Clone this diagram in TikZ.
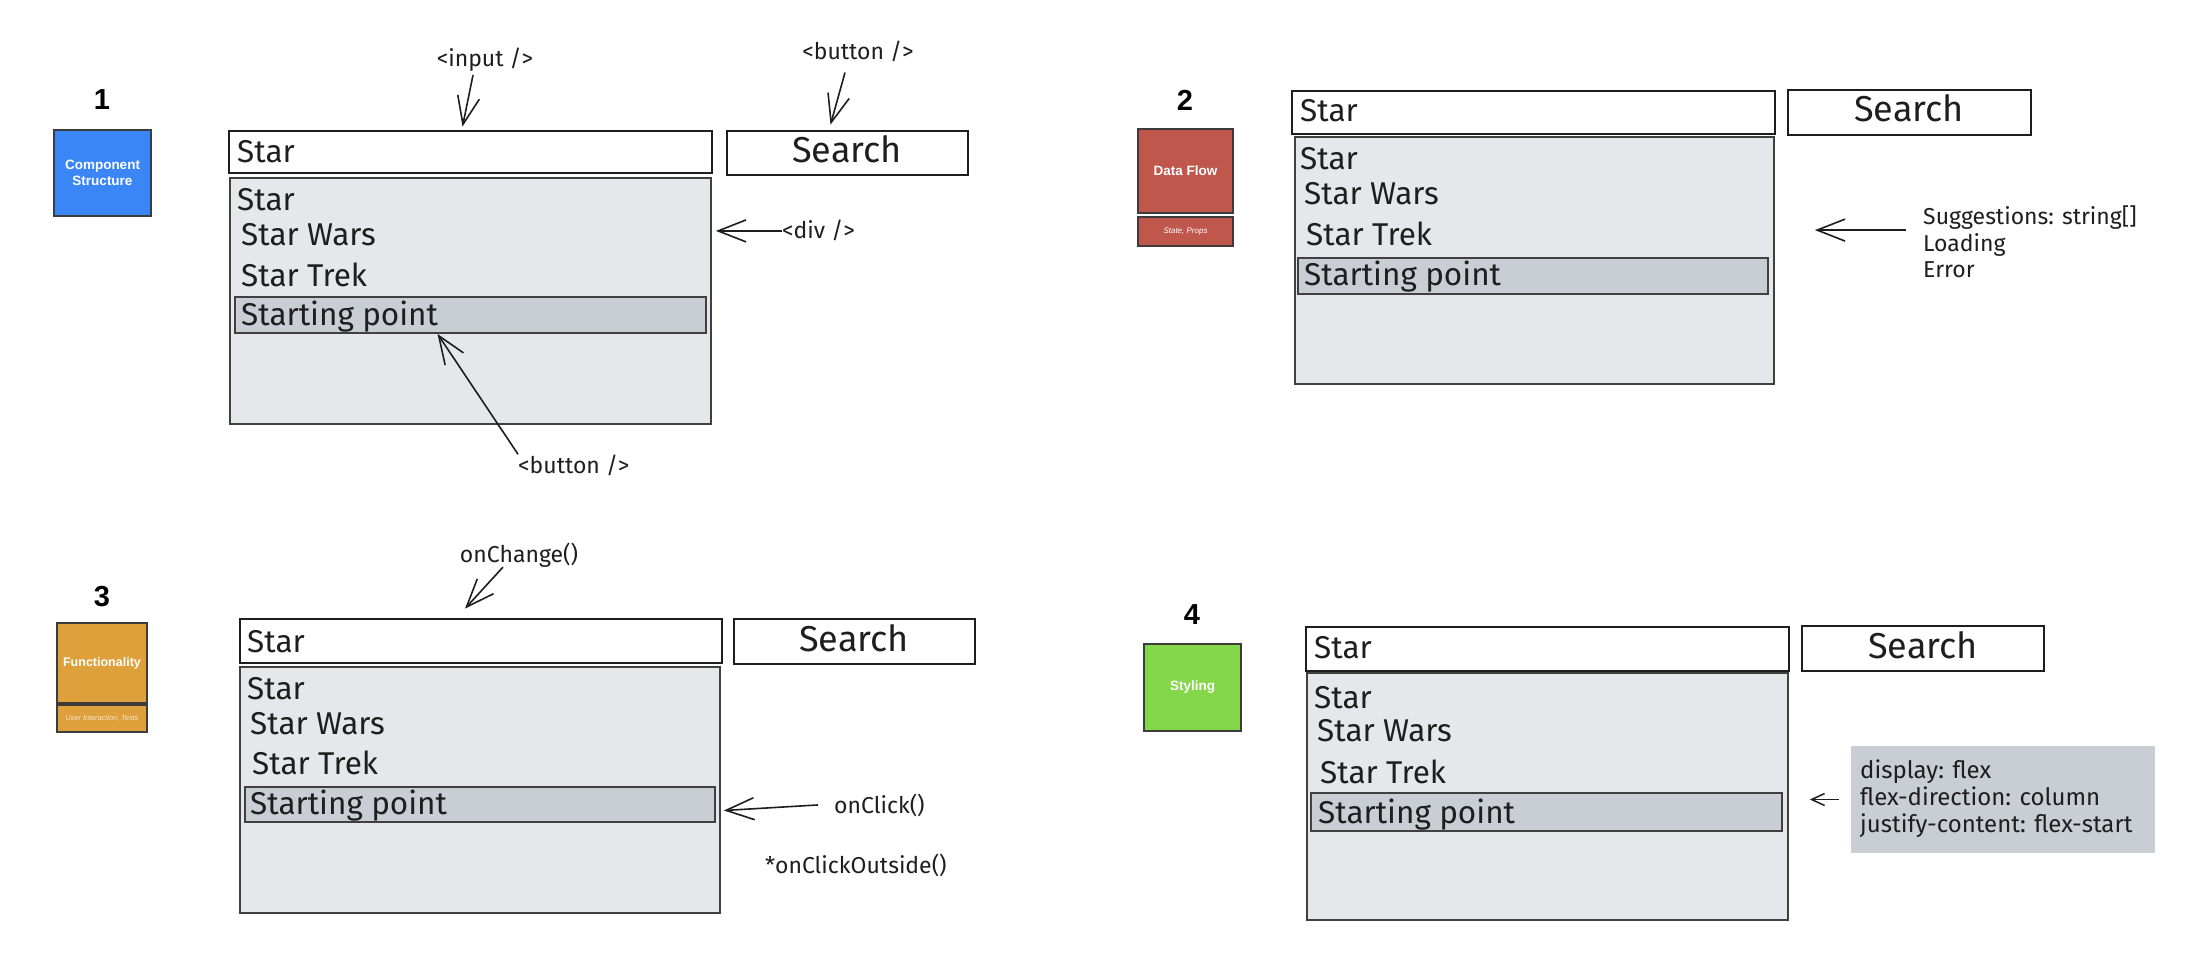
\documentclass[tikz,border=0pt]{standalone}
\usepackage{fontspec}
\setmainfont{Fira Sans}
\newfontfamily\headfont{Liberation Sans}
\usetikzlibrary{arrows.meta,fit}
\definecolor{ink}{RGB}{30,30,30}
\definecolor{ddgray}{RGB}{229,231,235}
\definecolor{hlgray}{RGB}{201,205,212}
\definecolor{cblue}{RGB}{59,134,246}
\definecolor{cred}{RGB}{192,87,77}
\definecolor{corange}{RGB}{221,160,58}
\definecolor{cgreen}{RGB}{132,214,74}
\definecolor{cborder}{RGB}{60,60,60}
\begin{document}
\begin{tikzpicture}[x=1pt,y=-1pt,
  inputbox/.style={draw=ink, line width=2.8pt, fill=white, inner sep=0pt},
  ddbox/.style={draw=ink!85, line width=1.8pt, fill=ddgray, inner sep=0pt},
  hlbox/.style={draw=ink!85, line width=1.8pt, fill=hlgray, inner sep=0pt},
  catbox/.style={draw=cborder, line width=1.2pt, inner sep=0pt},
  cattext/.style={text=white, font=\headfont\bfseries\fontsize{13.5}{16}\selectfont, align=center, inner sep=0pt},
  subtext/.style={text=white, font=\headfont\itshape\fontsize{8}{10}\selectfont, inner sep=0pt},
  numlbl/.style={font=\headfont\bfseries\fontsize{29}{32}\selectfont, inner sep=0pt},
  item/.style={font=\fontsize{31.5}{36}\selectfont, text=ink, inner sep=0pt, anchor=base west},
  srchtext/.style={font=\fontsize{36}{40}\selectfont, text=ink, inner sep=0pt, anchor=base},
  note/.style={font=\fontsize{23}{27}\selectfont, text=ink, inner sep=0pt},
  cssnote/.style={font=\fontsize{24}{27}\selectfont, text=ink, inner sep=0pt, anchor=base west},
  arr/.style={draw=ink, line width=1.6pt, -{Straight Barb[length=28pt,width=22pt,line width=1.6pt]}},
  arrsmall/.style={draw=ink, line width=1.5pt, -{Straight Barb[length=13pt,width=12pt,line width=1.5pt]}}
]
\useasboundingbox[fill=white] (0,0) rectangle (2189,957);

% ---------------- Panel 1 ----------------
\node[numlbl] (n1) at (102,100) {1};
\node[catbox, fill=cblue, fit={(54,130) (151,216)}] (cat1) {};
\node[cattext] (cat1t) at (cat1.center) {Component\\Structure};
\node[inputbox, fit={(229,131) (712,173)}] (in1) {};
\node[item] (in1t) at (237,163) {Star};
\node[inputbox, fit={(727,131) (968,175)}] (srch1) {};
\node[srchtext] (srch1t) at (847,163) {Search};
\node[ddbox, fit={(230,178) (711,424)}] (dd1) {};
\node[hlbox, fit={(235,297) (706,333)}] (hl1) {};
\node[item] (i1a) at (237,211) {Star};
\node[item] (i1b) at (241,246) {Star Wars};
\node[item] (i1c) at (241,287) {Star Trek};
\node[item] (i1d) at (241,326) {Starting point};
\node[note, anchor=base] (lblin) at (485,67) {<input />};
\node[note, anchor=base] (lblbtn) at (858,60) {<button />};
\node[note, anchor=base west] (lbldiv) at (782,239) {<div />};
\node[note, anchor=base west] (lblbtn2) at (518,473) {<button />};
\draw[arr] ([xshift=-12pt,yshift=-3pt]lblin.south) -- ([xshift=-8pt,yshift=3pt]in1.north);
\draw[arr] ([xshift=-13pt,yshift=-10pt]lblbtn.south) -- ([xshift=-17pt,yshift=5pt]srch1.north);
\draw[arr] (lbldiv.west) -- ([xshift=4pt]dd1.east |- lbldiv.west);
\draw[arr] (lblbtn2.north west) -- ([xshift=-33pt]hl1.south);

% ---------------- Panel 2 ----------------
\node[numlbl] (n2) at (1185,100) {2};
\node[catbox, fill=cred, fit={(1138,129) (1233,213)}] (cat2) {};
\node[cattext] (cat2t) at (cat2.center) {Data Flow};
\node[catbox, fill=cred, fit={(1138,217) (1233,246)}] (cat2s) {};
\node[subtext] (cat2st) at (cat2s.center) {State, Props};
\node[inputbox, fit={(1292,91) (1775,134)}] (in2) {};
\node[item] (in2t) at (1300,122) {Star};
\node[inputbox, fit={(1788,90) (2031,135)}] (srch2) {};
\node[srchtext] (srch2t) at (1909,122) {Search};
\node[ddbox, fit={(1295,137) (1774,384)}] (dd2) {};
\node[hlbox, fit={(1298,258) (1768,294)}] (hl2) {};
\node[item] (i2a) at (1300,170) {Star};
\node[item] (i2b) at (1304,205) {Star Wars};
\node[item] (i2c) at (1306,246) {Star Trek};
\node[item] (i2d) at (1304,286) {Starting point};
\node[note, anchor=base west] (sug1) at (1923,225) {Suggestions: string[]};
\node[note, anchor=base west] (sug2) at (1923,252) {Loading};
\node[note, anchor=base west] (sug3) at (1923,278) {Error};
\draw[arr] ([xshift=-17pt]sug2.west |- sug1.south) -- ([xshift=40pt]dd2.east |- sug1.south);

% ---------------- Panel 3 ----------------
\node[numlbl] (n3) at (102,597) {3};
\node[catbox, fill=corange, fit={(57,623) (147,703)}] (cat3) {};
\node[cattext, font=\headfont\bfseries\fontsize{12.5}{15}\selectfont] (cat3t) at (cat3.center) {Functionality};
\node[catbox, fill=corange, fit={(57,705) (147,732)}] (cat3s) {};
\node[subtext, text=white!75!corange, font=\headfont\itshape\fontsize{7.3}{9}\selectfont] (cat3st) at (cat3s.center) {User Interaction, Tests};
\node[inputbox, fit={(240,619) (722,663)}] (in3) {};
\node[item] (in3t) at (247,652) {Star};
\node[inputbox, fit={(734,619) (975,664)}] (srch3) {};
\node[srchtext] (srch3t) at (854,651) {Search};
\node[ddbox, fit={(240,667) (720,913)}] (dd3) {};
\node[hlbox, fit={(245,787) (715,822)}] (hl3) {};
\node[item] (i3a) at (247,699) {Star};
\node[item] (i3b) at (250,734) {Star Wars};
\node[item] (i3c) at (252,774) {Star Trek};
\node[item] (i3d) at (250,814) {Starting point};
\node[note, anchor=base] (lblchg) at (519,562) {onChange()};
\node[note, anchor=base west] (lblclk) at (834,813) {onClick()};
\node[note, anchor=base west] (lblout) at (765,873) {*onClickOutside()};
\draw[arr] ([xshift=-16pt]lblchg.south) -- ([xshift=-16pt,yshift=9pt]in3.north);
\draw[arr] ([xshift=-16pt]lblclk.west) -- ([xshift=8pt,yshift=-6pt]hl3.east);

% ---------------- Panel 4 ----------------
\node[numlbl] (n4) at (1192,615) {4};
\node[catbox, fill=cgreen, fit={(1144,644) (1241,731)}] (cat4) {};
\node[cattext, font=\headfont\bfseries\fontsize{13.5}{16}\selectfont] (cat4t) at (cat4.center) {Styling};
\node[inputbox, fit={(1306,627) (1789,671)}] (in4) {};
\node[item] (in4t) at (1314,658) {Star};
\node[inputbox, fit={(1802,626) (2044,671)}] (srch4) {};
\node[srchtext] (srch4t) at (1923,658) {Search};
\node[ddbox, fit={(1307,673) (1788,920)}] (dd4) {};
\node[hlbox, fit={(1311,793) (1782,831)}] (hl4) {};
\node[item] (i4a) at (1314,708) {Star};
\node[item] (i4b) at (1317,741) {Star Wars};
\node[item] (i4c) at (1320,783) {Star Trek};
\node[item] (i4d) at (1318,823) {Starting point};
\node[fill=hlgray, inner sep=0pt, fit={(1851,746) (2155,853)}] (gray4) {};
\node[cssnote] (css1) at (1860,778) {display: flex};
\node[cssnote] (css2) at (1860,805) {flex-direction: column};
\node[cssnote] (css3) at (1860,832) {justify-content: flex-start};
\draw[arrsmall] ([xshift=-12pt]gray4.west) -- ([xshift=-41pt]gray4.west);
\end{tikzpicture}
\end{document}
